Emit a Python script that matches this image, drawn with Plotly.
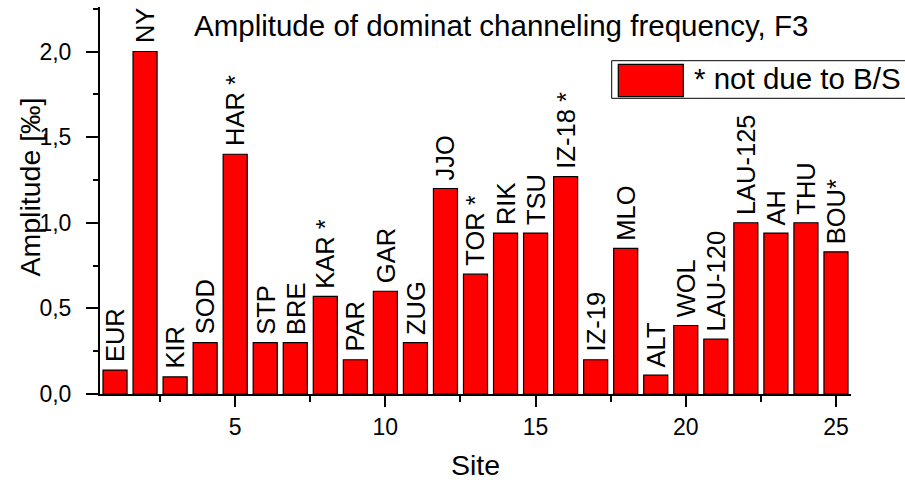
import plotly.graph_objects as go

# Station data: site index, station code and amplitude of the F3 channeling frequency
sites = list(range(1, 26))
station_labels = ["EUR", "NY", "KIR", "SOD", "HAR *", "STP", "BRE", "KAR *", "PAR", "GAR",
                  "ZUG", "JJO", "TOR *", "RIK", "TSU", "IZ-18 *", "IZ-19", "MLO", "ALT", "WOL",
                  "LAU-120", "LAU-125", "AH", "THU", "BOU*"]
amplitude = [0.14, 2.00, 0.10, 0.30, 1.40, 0.30, 0.30, 0.57, 0.20, 0.60,
             0.30, 1.20, 0.70, 0.94, 0.94, 1.27, 0.20, 0.85, 0.11, 0.40,
             0.32, 1.00, 0.94, 1.00, 0.83]

FONT = "Liberation Sans, Arial, sans-serif"
W, H = 905, 480
ML, MR, MT, MB = 100, 54, 7, 86
PW, PH = W - ML - MR, H - MT - MB


def px_x(x):
    return (x - ML) / PW


def px_y(y):
    return (H - MB - y) / PH


fig = go.Figure()
fig.add_trace(go.Bar(
    x=sites, y=amplitude, width=0.8,
    marker=dict(color="#ff0000", line=dict(color="black", width=1.2)),
    showlegend=False, hoverinfo="x+y",
))

annotations = []
for s, lab, v in zip(sites, station_labels, amplitude):
    annotations.append(dict(
        x=s, y=v, xref="x", yref="y", text=lab, textangle=-90,
        showarrow=False, xanchor="center", yanchor="bottom", yshift=6,
        font=dict(family=FONT, size=25.5, color="black"),
    ))

# Title inside the plot area
annotations.append(dict(
    x=px_x(500.5), y=1.0, xref="paper", yref="paper",
    text="Amplitude of dominat channeling frequency, F3",
    showarrow=False, xanchor="center", yanchor="top",
    font=dict(family=FONT, size=29.5, color="black"),
))

# Axis titles
annotations.append(dict(
    x=px_x(29), y=px_y(187.5), xref="paper", yref="paper",
    text="Amplitude [‰]", textangle=-90,
    showarrow=False, xanchor="center", yanchor="middle",
    font=dict(family=FONT, size=28.5, color="black"),
))
annotations.append(dict(
    x=px_x(475), y=px_y(465), xref="paper", yref="paper",
    text="Site", showarrow=False, xanchor="center", yanchor="middle",
    font=dict(family=FONT, size=28.5, color="black"),
))

# Legend text
annotations.append(dict(
    x=px_x(692), y=px_y(78.8), xref="paper", yref="paper",
    text="* not due to B/S", showarrow=False, xanchor="left", yanchor="middle",
    font=dict(family=FONT, size=29.5, color="black"),
))

shapes = [
    # legend frame
    dict(type="rect", xref="paper", yref="paper",
         x0=px_x(611.7), x1=px_x(915), y0=px_y(98.3), y1=px_y(60.7),
         line=dict(color="black", width=1), fillcolor="white", layer="below"),
    # legend swatch
    dict(type="rect", xref="paper", yref="paper",
         x0=px_x(618.3), x1=px_x(683.3), y0=px_y(96.7), y1=px_y(64.3),
         line=dict(color="black", width=1.2), fillcolor="#ff0000"),
]

axis_common = dict(
    showgrid=False, zeroline=False, showline=True, linecolor="black", linewidth=2,
    ticks="outside", tickwidth=2, tickcolor="black",
    tickfont=dict(family=FONT, size=23, color="black"),
    mirror=False, automargin=False,
)

fig.update_layout(
    width=W, height=H,
    margin=dict(l=ML, r=MR, t=MT, b=MB, pad=0, autoexpand=False),
    paper_bgcolor="white", plot_bgcolor="white",
    separators=",.",
    bargap=0.2,
    xaxis=dict(
        **axis_common,
        ticklen=11,
        range=[0.5, 25.5], tick0=0, dtick=5,
        minor=dict(ticks="outside", ticklen=6, tickwidth=2, tickcolor="black",
                   tick0=0, dtick=2.5, showgrid=False),
    ),
    yaxis=dict(
        **axis_common,
        ticklen=12, ticklabelstandoff=10,
        range=[0, 2.26], tick0=0, dtick=0.5, tickformat=".1f",
        minor=dict(ticks="outside", ticklen=5, tickwidth=2, tickcolor="black",
                   tick0=0, dtick=0.25, showgrid=False),
    ),
    annotations=annotations,
    shapes=shapes,
)

fig.write_html("out.html")
